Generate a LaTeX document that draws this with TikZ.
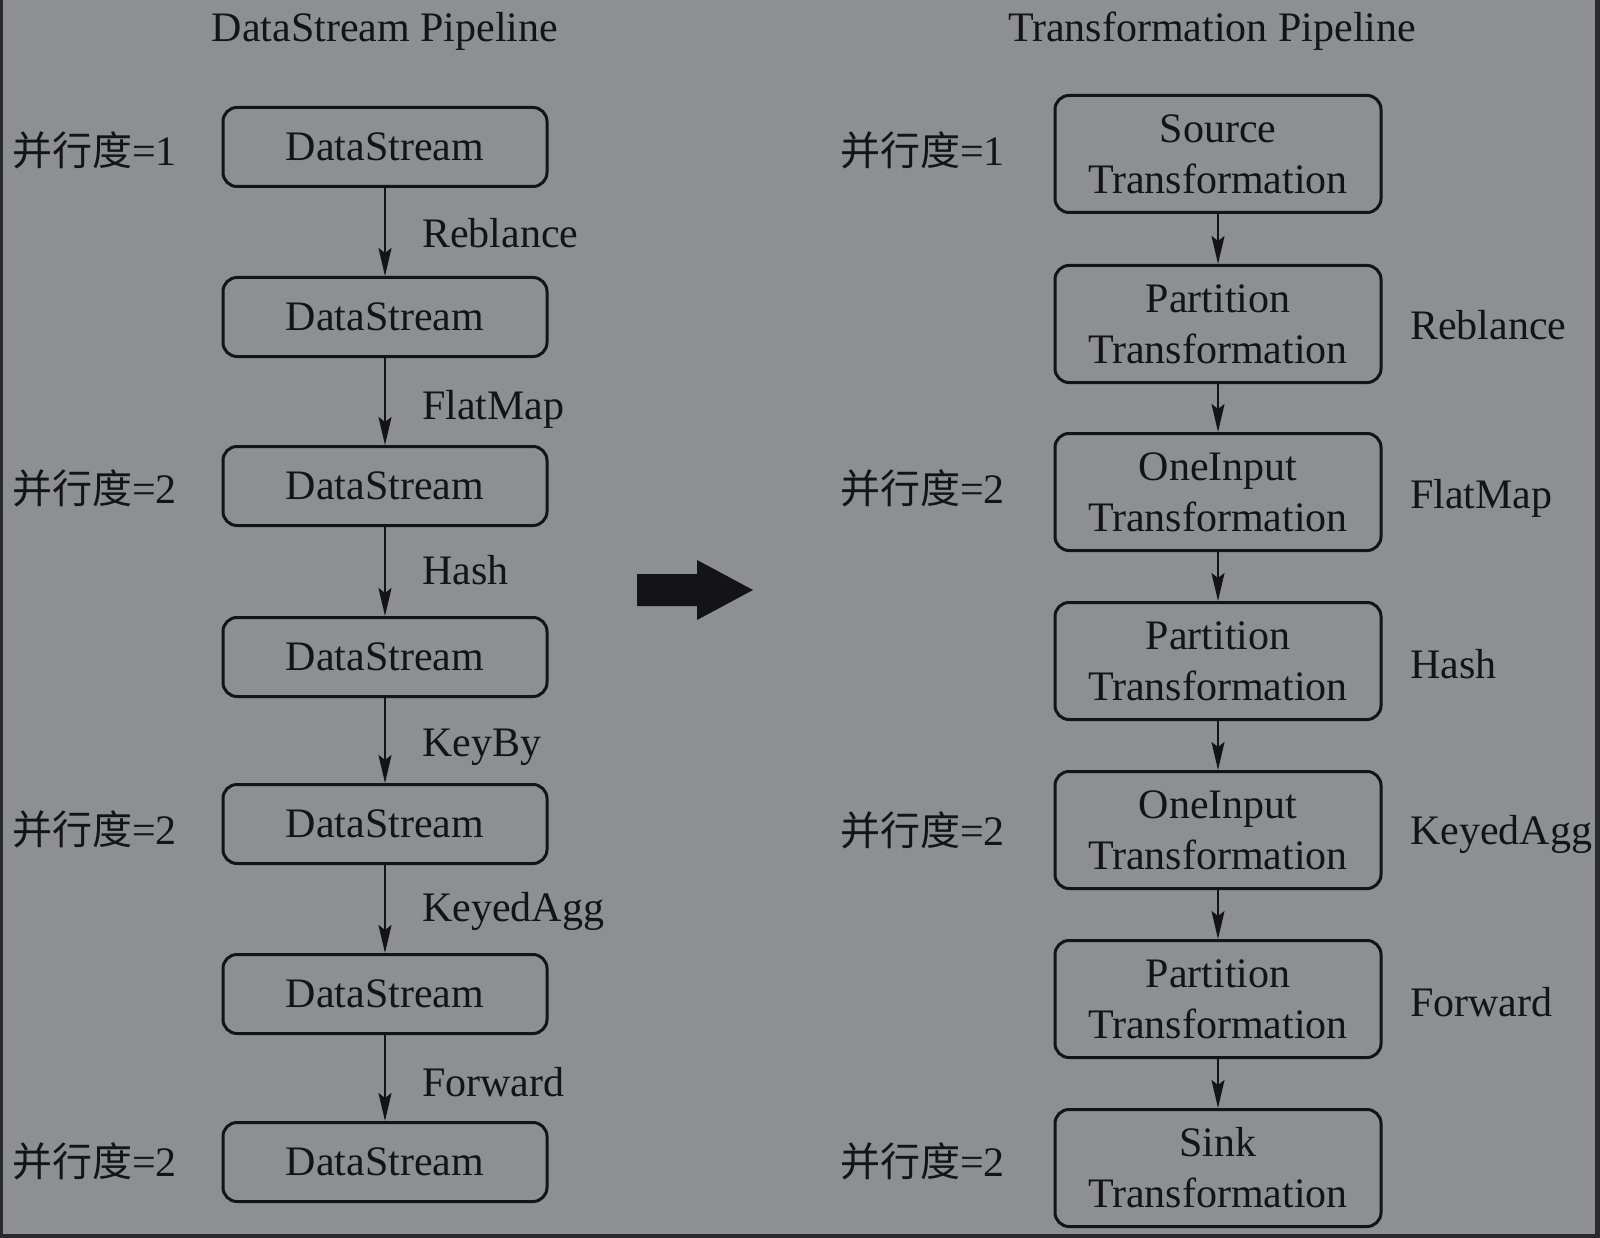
\documentclass[tikz,border=0pt]{standalone}
\usepackage{fontspec}
\setmainfont{Liberation Serif}
\newfontfamily\cjk{Noto Sans CJK SC}
\usetikzlibrary{arrows.meta}
\definecolor{bg}{HTML}{8E8F91}
\definecolor{ink}{HTML}{141416}
\definecolor{frame}{HTML}{2A2A2C}
\begin{document}
\begin{tikzpicture}[x=1pt,y=-1pt,
  box/.style={draw=ink,line width=3pt,rounded corners=14pt,text=ink,inner sep=0pt,
    font=\fontsize{42}{51}\selectfont,align=center},
  lbox/.style={box,minimum width=324pt,minimum height=79pt},
  rbox/.style={box,minimum width=326pt,minimum height=117pt},
  lab/.style={text=ink,font=\fontsize{42}{50}\selectfont,anchor=west,inner sep=0pt},
  par/.style={text=ink,font=\fontsize{42}{50}\selectfont,inner sep=0pt,anchor=west},
  ttl/.style={text=ink,font=\fontsize{42}{50}\selectfont,inner sep=0pt},
  conn/.style={draw=ink,line width=2pt,-{Stealth[length=28pt,width=13pt,inset=5pt]}}]
\useasboundingbox (0,0) rectangle (1600,1238);
\fill[frame] (0,0) rectangle (1600,1238);
\fill[bg] (3,0) rectangle (1595,1234);

\node[ttl] (t1) at (385,31) {DataStream Pipeline};
\node[ttl] (t2) at (1212,31) {Transformation Pipeline};

% left column
\node[lbox] (l1) at (385,147) {DataStream};
\node[lbox] (l2) at (385,317) {DataStream};
\node[lbox] (l3) at (385,486) {DataStream};
\node[lbox] (l4) at (385,657) {DataStream};
\node[lbox] (l5) at (385,824) {DataStream};
\node[lbox] (l6) at (385,994) {DataStream};
\node[lbox] (l7) at (385,1162) {DataStream};
\foreach \a/\b in {l1/l2,l2/l3,l3/l4,l4/l5,l5/l6,l6/l7} \draw[conn] (\a) -- (\b);
\node[lab] (el1) at (422,233) {Reblance};
\node[lab] (el2) at (422,409) {FlatMap};
\node[lab] (el3) at (422,570) {Hash};
\node[lab] (el4) at (422,747) {KeyBy};
\node[lab] (el5) at (422,911) {KeyedAgg};
\node[lab] (el6) at (422,1082) {Forward};

\node[par] (p1) at (12,150) {{\cjk\fontsize{40}{48}\selectfont 并行度}=1};
\node[par] (p2) at (12,488) {{\cjk\fontsize{40}{48}\selectfont 并行度}=2};
\node[par] (p3) at (12,829) {{\cjk\fontsize{40}{48}\selectfont 并行度}=2};
\node[par] (p4) at (12,1161) {{\cjk\fontsize{40}{48}\selectfont 并行度}=2};

% big arrow
\fill[ink] (637,574) -- (697,574) -- (697,560) -- (753,590) -- (697,620) -- (697,606) -- (637,606) -- cycle;

% right column
\node[rbox] (r1) at (1218,154) {Source\\Transformation};
\node[rbox] (r2) at (1218,324) {Partition\\Transformation};
\node[rbox] (r3) at (1218,492) {OneInput\\Transformation};
\node[rbox] (r4) at (1218,661) {Partition\\Transformation};
\node[rbox] (r5) at (1218,830) {OneInput\\Transformation};
\node[rbox] (r6) at (1218,999) {Partition\\Transformation};
\node[rbox] (r7) at (1218,1168) {Sink\\Transformation};
\foreach \a/\b in {r1/r2,r2/r3,r3/r4,r4/r5,r5/r6,r6/r7} \draw[conn] (\a) -- (\b);
\node[lab] (er1) at (1410,325) {Reblance};
\node[lab] (er2) at (1410,498) {FlatMap};
\node[lab] (er3) at (1410,664) {Hash};
\node[lab] (er4) at (1410,834) {KeyedAgg};
\node[lab] (er5) at (1410,1002) {Forward};

\node[par] (q1) at (840,150) {{\cjk\fontsize{40}{48}\selectfont 并行度}=1};
\node[par] (q2) at (840,488) {{\cjk\fontsize{40}{48}\selectfont 并行度}=2};
\node[par] (q3) at (840,830) {{\cjk\fontsize{40}{48}\selectfont 并行度}=2};
\node[par] (q4) at (840,1161) {{\cjk\fontsize{40}{48}\selectfont 并行度}=2};
\end{tikzpicture}
\end{document}
